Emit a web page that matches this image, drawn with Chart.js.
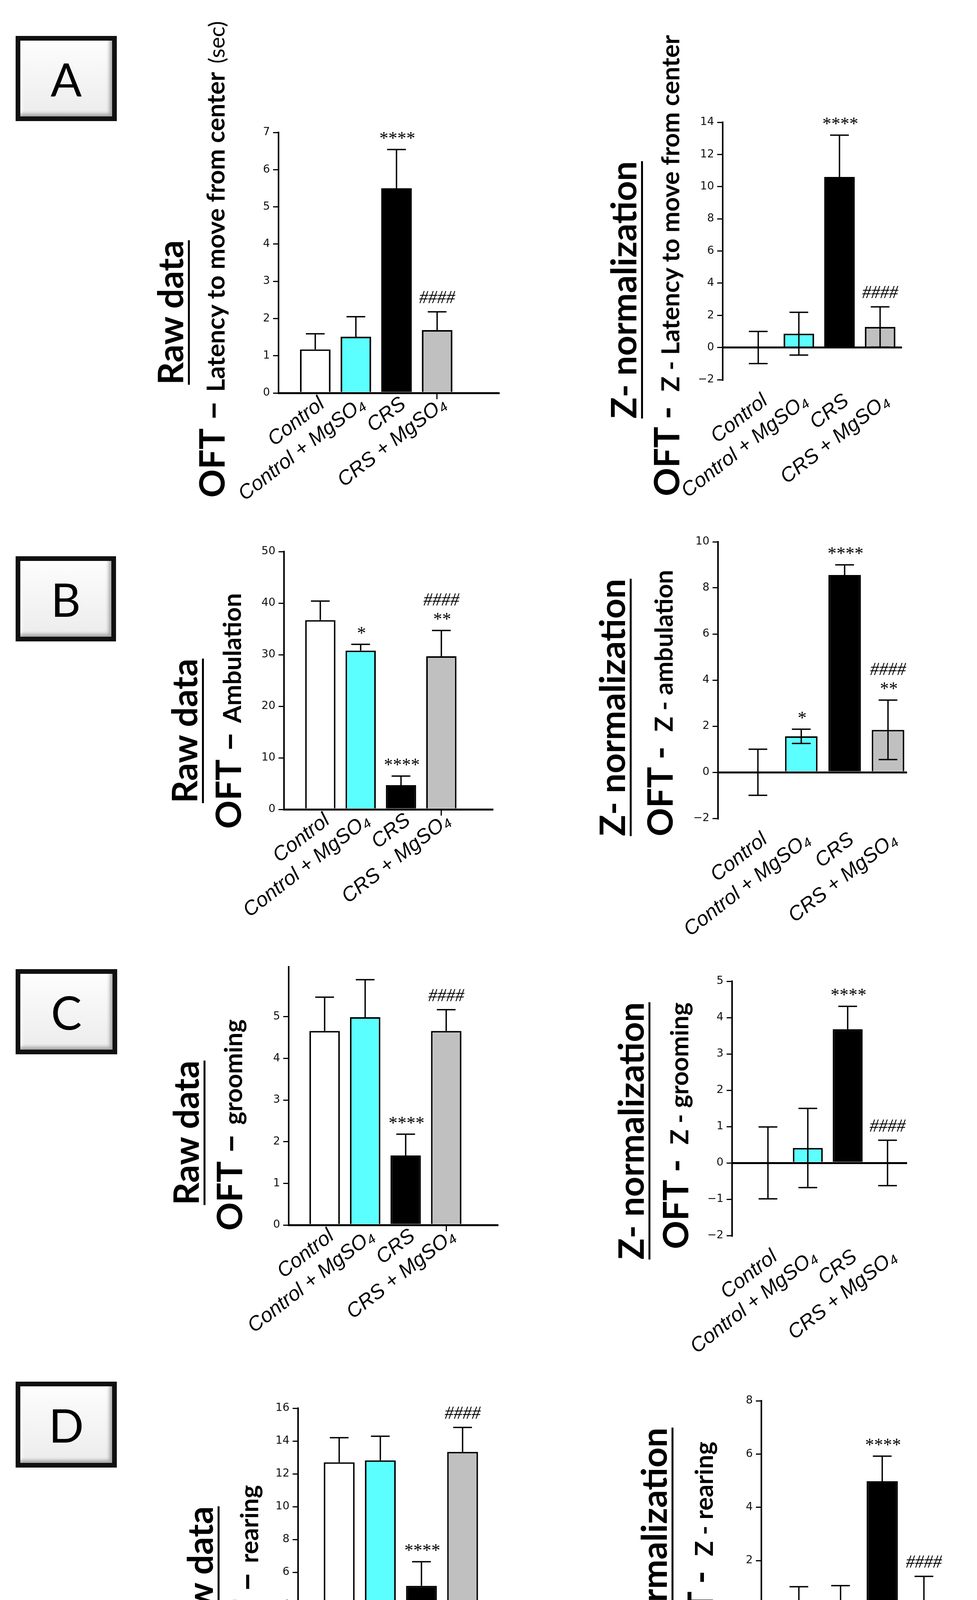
<!DOCTYPE html>
<html>
<head>
<meta charset="utf-8">
<script src="https://cdn.jsdelivr.net/npm/chart.js@4.4.0/dist/chart.umd.min.js"></script>
<style>
body { margin: 0; background: #fff; width: 2501px; height: 4608px; position: relative; overflow: hidden; }
canvas { position: absolute; }
.box { position: absolute; box-sizing: border-box; border: 12px solid #111; background: linear-gradient(#fdfdfd, #ececec);
       box-shadow: inset -7px -7px 9px rgba(0,0,0,.3), inset 5px 5px 6px #fff;
       font: 400 118px Lato, sans-serif; display: flex; align-items: center; justify-content: center; color: #000; }
.t { position: absolute; white-space: nowrap; transform: translate(-50%, -50%) rotate(-90deg);
     font-family: Lato, sans-serif; font-weight: 700; line-height: 1; color: #000; }
.u { text-decoration: underline; text-decoration-thickness: 5px; text-underline-offset: 12px; }
.s { font-size: 64px; }
.r { font-size: 56px; font-weight: 400; }
</style>
</head>
<body>

<div class="box" style="left:40px;top:92px;width:259px;height:218px">A</div>
<div class="box" style="left:40px;top:1424px;width:257px;height:218px">B</div>
<div class="box" style="left:40px;top:2481px;width:260px;height:218px">C</div>
<div class="box" style="left:40px;top:3537px;width:259px;height:220px">D</div>

<!-- panel titles, rotated -->
<div class="t u" style="left:434px;top:800px;font-size:90px">Raw data</div>
<div class="t" style="left:540px;top:664px;font-size:90px">OFT – <span class="s">Latency to move from center</span> <span class="r">(sec)</span></div>
<div class="t u" style="left:1594px;top:742px;font-size:90px">Z- normalization</div>
<div class="t" style="left:1704px;top:680px;font-size:90px">OFT - <span class="s">&nbsp;Z - Latency to move from center</span></div>

<div class="t u" style="left:470px;top:1871px;font-size:90px">Raw data</div>
<div class="t" style="left:582px;top:1820px;font-size:90px">OFT – <span class="s">Ambulation</span></div>
<div class="t u" style="left:1565px;top:1811px;font-size:90px">Z- normalization</div>
<div class="t" style="left:1687px;top:1800px;font-size:90px">OFT - <span class="s">&nbsp;Z - ambulation</span></div>

<div class="t u" style="left:474px;top:2900px;font-size:90px">Raw data</div>
<div class="t" style="left:585px;top:2880px;font-size:90px">OFT – <span class="s">grooming</span></div>
<div class="t u" style="left:1613px;top:2895px;font-size:90px">Z- normalization</div>
<div class="t" style="left:1727px;top:2882px;font-size:90px">OFT - <span class="s">&nbsp;Z - grooming</span></div>

<div class="t u" style="left:510px;top:4041px;font-size:90px">Raw data</div>
<div class="t" style="left:626px;top:4037px;font-size:90px">OFT – <span class="s">rearing</span></div>
<div class="t u" style="left:1672px;top:3984px;font-size:90px">Z- normalization</div>
<div class="t" style="left:1790px;top:3971px;font-size:90px">OFT - <span class="s">&nbsp;Z - rearing</span></div>

<canvas id="aRaw"></canvas>
<canvas id="aZ"></canvas>
<canvas id="bRaw"></canvas>
<canvas id="bZ"></canvas>
<canvas id="cRaw"></canvas>
<canvas id="cZ"></canvas>
<canvas id="dRaw"></canvas>
<canvas id="dZ"></canvas>

<script>
// groups and colours
var groups = ["Control", "Control + MgSO\u2084", "CRS", "CRS + MgSO\u2084"];
var barFill = ["#ffffff", "#5cffff", "#000000", "#c0c0c0"];

// A - latency to move from center
var latencyRaw = [1.17, 1.51, 5.50, 1.69];
var latencyRawErr = [0.42, 0.54, 1.04, 0.49];
var latencyZ = [0, 0.86, 10.6, 1.28];
var latencyZErr = [1.0, 1.33, 2.6, 1.25];
var latencyMarks = ["", "", "****", "####"];

// B - ambulation
var ambulationRaw = [36.7, 30.8, 4.7, 29.7];
var ambulationRawErr = [3.7, 1.2, 1.75, 5.0];
var ambulationZ = [0, 1.56, 8.56, 1.84];
var ambulationZErr = [1.0, 0.31, 0.44, 1.29];
var ambulationMarks = ["", "*", "****", "####\n**"];

// C - grooming
var groomingRaw = [4.66, 4.99, 1.67, 4.66];
var groomingRawErr = [0.81, 0.90, 0.51, 0.51];
var groomingZ = [0, 0.41, 3.68, 0];
var groomingZErr = [0.99, 1.09, 0.63, 0.625];
var groomingMarks = ["", "", "****", "####"];

// D - rearing
var rearingRaw = [12.7, 12.82, 5.17, 13.34];
var rearingRawErr = [1.5, 1.47, 1.47, 1.49];
var rearingZ = [0.02, 0.1, 4.98, 0.42];
var rearingZErr = [1.0, 0.96, 0.94, 0.99];
var rearingMarks = ["", "", "****", "####"];

// where each plot sits on the page (axis line x, top / bottom pixel, end of x axis) and its scale ranges
var YW = 100, PL = 220, PT = 130, PR = 10, XH = 340;
var frames = {
    aRaw: { axisX: 713,  top: 339,  bottom: 1006, right: 1278, xMin: -0.904, xMax: 4.529, yMin: 0,  yMax: 7,   step: 1 },
    aZ:   { axisX: 1850, top: 313,  bottom: 972,  right: 2309, xMin: -0.875, xMax: 3.539, yMin: -2, yMax: 14,  step: 2 },
    bRaw: { axisX: 727,  top: 1412, bottom: 2072, right: 1262, xMin: -0.9,   xMax: 4.28,  yMin: 0,  yMax: 50,  step: 10 },
    bZ:   { axisX: 1838, top: 1387, bottom: 2095, right: 2322, xMin: -0.92,  xMax: 3.44,  yMin: -2, yMax: 10,  step: 2 },
    cRaw: { axisX: 739,  top: 2475, bottom: 3136, right: 1275, xMin: -0.887, xMax: 4.28,  yMin: 0,  yMax: 6.2, step: 1 },
    cZ:   { axisX: 1874, top: 2512, bottom: 3163, right: 2322, xMin: -0.9,   xMax: 3.49,  yMin: -2, yMax: 5,   step: 1 },
    dRaw: { axisX: 763,  top: 3605, bottom: 4277, right: 1300, xMin: -1.0,   xMax: 4.1,   yMin: 0,  yMax: 16,  step: 2 },
    dZ:   { axisX: 1949, top: 3586, bottom: 4268, right: 2416, xMin: -0.9,   xMax: 3.477, yMin: -2, yMax: 8,   step: 2 }
};

// SEM whiskers + significance marks
var errorBars = {
    id: "errorBars",
    afterDatasetsDraw: function (chart, args, opts) {
        var ctx = chart.ctx, y = chart.scales.y;
        var meta = chart.getDatasetMeta(0);
        var vals = chart.data.datasets[0].data;
        ctx.save();
        ctx.strokeStyle = "#000";
        ctx.lineWidth = 3.5;
        meta.data.forEach(function (bar, i) {
            var v = vals[i].y, e = opts.err[i];
            var top = y.getPixelForValue(v + e);
            var bot = y.getPixelForValue(opts.both ? v - e : v);
            ctx.beginPath();
            ctx.moveTo(bar.x, top); ctx.lineTo(bar.x, bot);
            ctx.moveTo(bar.x - 24, top); ctx.lineTo(bar.x + 24, top);
            if (opts.both) { ctx.moveTo(bar.x - 24, bot); ctx.lineTo(bar.x + 24, bot); }
            ctx.stroke();

            var lines = opts.marks[i].split("\n").reverse();
            ctx.fillStyle = "#000";
            ctx.font = "italic 46px 'Liberation Serif', serif";
            ctx.textAlign = "center";
            ctx.textBaseline = "alphabetic";
            var yy = top - 14;
            lines.forEach(function (s, k) {
                if (!s) return;
                var lift = s.indexOf("#") >= 0 ? 8 : 0;
                ctx.fillText(s, bar.x, yy - lift);
                yy -= 42;
            });
        });
        ctx.restore();
    }
};

function drawPanel(id, values, errs, marks, zMode) {
    var f = frames[id];
    var cv = document.getElementById(id);
    cv.width = PL + YW + (f.right - f.axisX) + PR;
    cv.height = PT + (f.bottom - f.top) + XH;
    cv.style.left = (f.axisX - YW - PL) + "px";
    cv.style.top = (f.top - PT) + "px";

    new Chart(cv, {
        type: "bar",
        data: {
            datasets: [{
                data: values.map(function (v, i) { return { x: i, y: v }; }),
                backgroundColor: barFill,
                borderColor: "#000",
                borderWidth: 4,
                categoryPercentage: 1,
                barPercentage: 0.75
            }]
        },
        options: {
            responsive: false,
            animation: false,
            layout: { padding: { top: PT, right: PR, left: PL, bottom: 0 } },
            plugins: {
                legend: { display: false },
                tooltip: { enabled: false },
                errorBars: { err: errs, both: zMode, marks: marks }
            },
            scales: {
                x: {
                    type: "linear",
                    min: f.xMin,
                    max: f.xMax,
                    offset: false,
                    afterBuildTicks: function (s) { s.ticks = groups.map(function (g, i) { return { value: i }; }); },
                    afterFit: function (s) { s.height = XH; },
                    grid: {
                        offset: false,
                        drawOnChartArea: false,
                        tickLength: 16,
                        tickWidth: 3,
                        tickColor: function (c) { return (!zMode && c.index === 3) ? "#000" : "rgba(0,0,0,0)"; }
                    },
                    border: { display: !zMode, color: "#000", width: 5 },
                    ticks: {
                        autoSkip: false,
                        minRotation: 38,
                        maxRotation: 38,
                        labelOffset: 18,
                        padding: zMode ? 8 : -18,
                        color: "#000",
                        font: { family: "'Liberation Sans', Arial, sans-serif", style: "italic", size: 52 },
                        callback: function (v) { return groups[v]; }
                    }
                },
                y: {
                    min: f.yMin,
                    max: f.yMax,
                    afterBuildTicks: function (s) {
                        s.ticks = s.ticks.filter(function (t) {
                            var q = t.value / f.step;
                            return Math.abs(q - Math.round(q)) < 1e-6;
                        });
                    },
                    afterFit: function (s) { s.width = YW; },
                    grid: {
                        drawOnChartArea: zMode,
                        color: function (c) { return (c.tick && c.tick.value === 0) ? "#000" : "rgba(0,0,0,0)"; },
                        lineWidth: 5,
                        tickLength: 14,
                        tickWidth: 3,
                        tickColor: "#000"
                    },
                    border: { display: true, color: "#000", width: 4 },
                    ticks: {
                        stepSize: f.step,
                        padding: 8,
                        color: "#111",
                        font: { family: "'DejaVu Sans', sans-serif", size: 28 },
                        callback: function (v) { return v < 0 ? "\u2212" + (-v) : String(v); }
                    }
                }
            }
        },
        plugins: [errorBars]
    });
}

drawPanel("aRaw", latencyRaw, latencyRawErr, latencyMarks, false);
drawPanel("aZ", latencyZ, latencyZErr, latencyMarks, true);
drawPanel("bRaw", ambulationRaw, ambulationRawErr, ambulationMarks, false);
drawPanel("bZ", ambulationZ, ambulationZErr, ambulationMarks, true);
drawPanel("cRaw", groomingRaw, groomingRawErr, groomingMarks, false);
drawPanel("cZ", groomingZ, groomingZErr, groomingMarks, true);
drawPanel("dRaw", rearingRaw, rearingRawErr, rearingMarks, false);
drawPanel("dZ", rearingZ, rearingZErr, rearingMarks, true);
</script>
</body>
</html>
